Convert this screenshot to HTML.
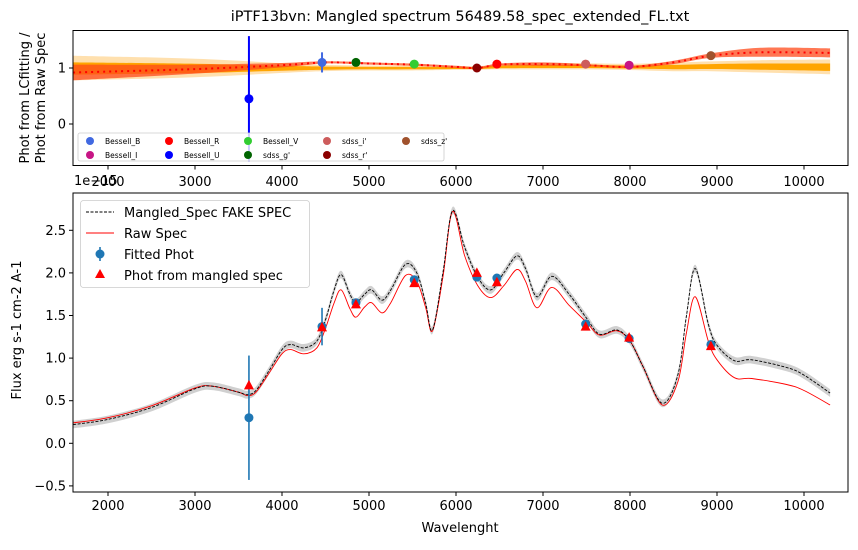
<!DOCTYPE html>
<html><head><meta charset="utf-8"><style>
body{margin:0;background:#fff}
svg text{font-family:"DejaVu Sans","Liberation Sans",sans-serif;fill:#000}
</style></head><body>
<svg id="chart" width="858" height="545" xmlns="http://www.w3.org/2000/svg"></svg>
<script>
const filters=["Bessell_U","Bessell_B","sdss_g'","Bessell_V","sdss_r'","Bessell_R","sdss_i'","Bessell_I","sdss_z'"];
const filterWave=[3620,4460,4850,5520,6240,6470,7490,7990,8930];
const filterColor=["blue","royalblue","darkgreen","limegreen","darkred","red","indianred","mediumvioletred","sienna"];
const ratioVals=[0.45,1.1,1.1,1.07,1.0,1.07,1.07,1.05,1.22];
const ratioErr=[1.12,0.18,0,0,0,0,0,0,0];
const fittedPhot=[0.3,1.37,1.65,1.92,1.95,1.94,1.4,1.23,1.16];
const fittedErr=[0.73,0.22,0,0,0,0,0,0,0];
const mangledPhot=[0.68,1.36,1.63,1.88,2.0,1.89,1.37,1.24,1.14];
const specWave=[1600,2000,2500,3000,3200,3500,3600,3700,3850,4000,4100,4250,4400,4500,4600,4680,4780,4850,4950,5030,5150,5250,5420,5550,5650,5730,5850,5960,6100,6250,6400,6550,6700,6800,6930,7100,7300,7500,7650,7850,8000,8150,8370,8550,8650,8750,8900,9000,9200,9400,9800,10000,10300];
const mangledSpec=[0.22,0.28,0.42,0.64,0.67,0.6,0.57,0.62,0.85,1.1,1.16,1.12,1.2,1.45,1.8,1.98,1.75,1.65,1.75,1.8,1.68,1.8,2.1,2.0,1.65,1.33,2.0,2.73,2.3,1.95,1.8,2.0,2.2,2.05,1.72,1.96,1.75,1.47,1.28,1.33,1.2,0.9,0.47,0.8,1.5,2.05,1.4,1.15,0.97,0.98,0.89,0.8,0.59];
const rawSpec=[0.24,0.3,0.44,0.65,0.67,0.6,0.56,0.6,0.82,1.05,1.1,1.05,1.12,1.35,1.65,1.8,1.58,1.48,1.6,1.65,1.53,1.65,1.97,1.9,1.6,1.32,1.95,2.72,2.2,1.85,1.71,1.85,2.04,1.9,1.59,1.83,1.62,1.42,1.27,1.32,1.2,0.9,0.45,0.72,1.3,1.72,1.2,0.98,0.77,0.76,0.69,0.62,0.45];
const ratioWave=[1600,3000,4000,4500,5000,5500,6000,6250,6500,7000,7500,8000,8500,8930,9500,10300];
const ratioFit=[0.92,0.98,1.05,1.1,1.08,1.06,1.02,1.0,1.06,1.07,1.05,1.02,1.1,1.22,1.28,1.27];
const ratioFitErr=[0.14,0.08,0.04,0.02,0.02,0.02,0.02,0.02,0.02,0.03,0.02,0.02,0.03,0.04,0.08,0.08];
const orangeMid=[1.0,1.0,1.0,1.0,1.0,1.0,1.0,1.0,1.02,1.03,1.03,1.02,1.02,1.03,1.03,1.02];
const orangeErr=[0.2,0.15,0.08,0.05,0.04,0.04,0.03,0.03,0.04,0.05,0.05,0.05,0.07,0.08,0.1,0.12];
const xTicks=[2000,3000,4000,5000,6000,7000,8000,9000,10000];
const topYTicks=[0,1];
const botYTicks=[-0.5,0,0.5,1,1.5,2,2.5];

const svg=document.getElementById('chart');
const NS="http://www.w3.org/2000/svg";
function mk(tag,attrs,parent){const e=document.createElementNS(NS,tag);for(const k in attrs)e.setAttribute(k,attrs[k]);(parent||svg).appendChild(e);return e;}
const L=73,R=848;
const xS=w=>108+(w-2000)*0.087;
const yT=v=>68-(v-1)*56;
const yB=v=>443.3-v*85.2;
function smooth(xs,ys){let d="M"+xs[0].toFixed(1)+","+ys[0].toFixed(1);
 for(let i=0;i<xs.length-1;i++){const x0=xs[Math.max(i-1,0)],y0=ys[Math.max(i-1,0)],x1=xs[i],y1=ys[i],x2=xs[i+1],y2=ys[i+1],x3=xs[Math.min(i+2,xs.length-1)],y3=ys[Math.min(i+2,xs.length-1)];
 d+=" C"+(x1+(x2-x0)/6).toFixed(1)+","+(y1+(y2-y0)/6).toFixed(1)+" "+(x2-(x3-x1)/6).toFixed(1)+","+(y2-(y3-y1)/6).toFixed(1)+" "+x2.toFixed(1)+","+y2.toFixed(1);}
 return d;}
function band(ws,lo,hi,yf){const xs=ws.map(xS);const top=smooth(xs,hi.map(yf));const rx=xs.slice().reverse(),rl=lo.map(yf).reverse();
 return top+" L"+smooth(rx,rl).slice(1)+" Z";}

let t=mk('text',{x:460,y:21,'font-size':14.5,'text-anchor':'middle'});t.textContent="iPTF13bvn: Mangled spectrum 56489.58_spec_extended_FL.txt";


// ===== top panel
const gT=mk('g',{});
const clipT=mk('clipPath',{id:'ct'},gT);mk('rect',{x:L,y:30,width:R-L,height:135},clipT);
const gTc=mk('g',{'clip-path':'url(#ct)'},gT);
let p=mk('path',{d:band(ratioWave,orangeMid.map((m,i)=>m-orangeErr[i]*1.1),orangeMid.map((m,i)=>m+orangeErr[i]*1.1),yT),fill:'#ffd89a',opacity:0.8},gTc);

p=mk('path',{d:band(ratioWave,orangeMid.map((m,i)=>m-orangeErr[i]*0.6),orangeMid.map((m,i)=>m+orangeErr[i]*0.5),yT),fill:'orange'},gTc);

p=mk('path',{d:band(ratioWave,ratioFit.map((m,i)=>m-ratioFitErr[i]),ratioFit.map((m,i)=>m+ratioFitErr[i]),yT),fill:'#ff4a1a',opacity:0.75},gTc);

p=mk('path',{d:smooth(ratioWave.map(xS),ratioFit.map(yT)),fill:'none',stroke:'red','stroke-width':2,'stroke-dasharray':'2,4'},gTc);

filters.forEach((f,i)=>{
 if(ratioErr[i]>0){const l=mk('line',{x1:xS(filterWave[i]),x2:xS(filterWave[i]),y1:yT(ratioVals[i]-ratioErr[i]),y2:yT(ratioVals[i]+ratioErr[i]),stroke:filterColor[i],'stroke-width':2},gTc);
 }
 const c=mk('circle',{cx:xS(filterWave[i]),cy:yT(ratioVals[i]),r:4.5,fill:filterColor[i]},gTc);
 
});
const legT=mk('g',{},gT);
mk('rect',{x:78,y:133,width:366,height:28,rx:2,fill:'#fff','fill-opacity':0.8,stroke:'#ccc','stroke-width':0.8},legT);
const legOrder=[1,7,5,0,3,2,6,4,8];
legOrder.forEach((fi,k)=>{const col=Math.floor(k/2),row=k%2;const x=90+col*79,y=141+row*14;
 const c=mk('circle',{cx:x,cy:y,r:4,fill:filterColor[fi]},legT);
 const tx=mk('text',{x:x+15,y:y+3,'font-size':7.5},legT);tx.textContent=filters[fi];
});
mk('rect',{x:L,y:30.5,width:R-L,height:135,fill:'none',stroke:'#000','stroke-width':1},gT);
xTicks.forEach(v=>{mk('line',{x1:xS(v),x2:xS(v),y1:165.5,y2:169.5,stroke:'#000'},gT);
 const tx=mk('text',{x:xS(v),y:186,'font-size':13,'text-anchor':'middle'},gT);tx.textContent=v;});
topYTicks.forEach(v=>{mk('line',{x1:L-4,x2:L,y1:yT(v),y2:yT(v),stroke:'#000'},gT);
 const tx=mk('text',{x:L-7,y:yT(v)+4.5,'font-size':13,'text-anchor':'end'},gT);tx.textContent=v;});
t=mk('text',{'font-size':13,'text-anchor':'middle',transform:'translate(29,98) rotate(-90)'},gT);t.textContent="Phot from LCfitting /";

t=mk('text',{'font-size':13,'text-anchor':'middle',transform:'translate(45,98) rotate(-90)'},gT);t.textContent="Phot from Raw Spec";


// ===== bottom panel
const gB=mk('g',{});
const clipB=mk('clipPath',{id:'cb'},gB);mk('rect',{x:L,y:193,width:R-L,height:299},clipB);
const gBc=mk('g',{'clip-path':'url(#cb)'},gB);
p=mk('path',{d:band(specWave,mangledSpec.map(v=>v-0.045),mangledSpec.map(v=>v+0.045),yB),fill:'#c8c8c8',opacity:0.85},gBc);

p=mk('path',{d:smooth(specWave.map(xS),rawSpec.map(yB)),fill:'none',stroke:'red','stroke-width':0.9},gBc);

p=mk('path',{d:smooth(specWave.map(xS),mangledSpec.map(yB)),fill:'none',stroke:'#000','stroke-width':0.9,'stroke-dasharray':'3,1.5'},gBc);

filters.forEach((f,i)=>{
 if(fittedErr[i]>0){const l=mk('line',{x1:xS(filterWave[i]),x2:xS(filterWave[i]),y1:yB(fittedPhot[i]-fittedErr[i]),y2:yB(fittedPhot[i]+fittedErr[i]),stroke:'#1f77b4','stroke-width':1.6},gBc);
 }
 const c=mk('circle',{cx:xS(filterWave[i]),cy:yB(fittedPhot[i]),r:4.5,fill:'#1f77b4'},gBc);
 
});
filters.forEach((f,i)=>{const x=xS(filterWave[i]),y=yB(mangledPhot[i]);
 const tr=mk('path',{d:`M${x},${y-5.5} L${x+5},${y+4} L${x-5},${y+4} Z`,fill:'red'},gBc);
 });
mk('rect',{x:L,y:193,width:R-L,height:299,fill:'none',stroke:'#000','stroke-width':1},gB);
xTicks.forEach(v=>{mk('line',{x1:xS(v),x2:xS(v),y1:492,y2:496,stroke:'#000'},gB);
 const tx=mk('text',{x:xS(v),y:510,'font-size':13,'text-anchor':'middle'},gB);tx.textContent=v;});
botYTicks.forEach(v=>{mk('line',{x1:L-4,x2:L,y1:yB(v),y2:yB(v),stroke:'#000'},gB);
 const tx=mk('text',{x:L-7,y:yB(v)+4.5,'font-size':13,'text-anchor':'end'},gB);tx.textContent=(v<0?'\u2212':'')+Math.abs(v).toFixed(1);});
t=mk('text',{x:74,y:185,'font-size':13},gB);t.textContent="1e\u221215";
t=mk('text',{x:460,y:532,'font-size':13,'text-anchor':'middle'},gB);t.textContent="Wavelenght";
t=mk('text',{'font-size':13,'text-anchor':'middle',transform:'translate(21,330) rotate(-90)'},gB);t.textContent="Flux erg s-1 cm-2 A-1";
const legB=mk('g',{},gB);
mk('rect',{x:80.5,y:200.5,width:229,height:87,rx:3,fill:'#fff','fill-opacity':0.8,stroke:'#ccc','stroke-width':0.8},legB);
mk('line',{x1:86,x2:114,y1:212,y2:212,stroke:'#000','stroke-width':0.9,'stroke-dasharray':'3,1.5'},legB);
mk('line',{x1:86,x2:114,y1:233,y2:233,stroke:'red','stroke-width':0.9},legB);
mk('line',{x1:100,x2:100,y1:247,y2:261,stroke:'#1f77b4','stroke-width':1.6},legB);
mk('circle',{cx:100,cy:254,r:4.5,fill:'#1f77b4'},legB);
mk('path',{d:'M100,269 L105,278 L95,278 Z',fill:'red'},legB);
[["Mangled_Spec FAKE SPEC",217],["Raw Spec",238],["Fitted Phot",259],["Phot from mangled spec",280]].forEach(([s,y])=>{
 const tx=mk('text',{x:124,y:y,'font-size':13},legB);tx.textContent=s;});
</script>
</body></html>
